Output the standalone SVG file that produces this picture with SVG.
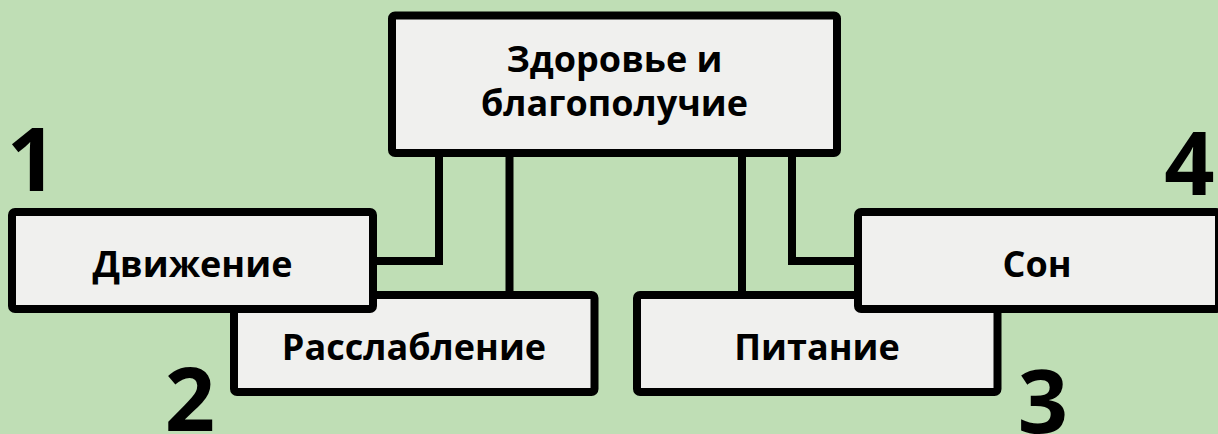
<svg xmlns="http://www.w3.org/2000/svg" width="1218" height="434" viewBox="0 0 1218 434">
<style>
.box{fill:#f0f0ee;stroke:#000;stroke-width:8;stroke-linejoin:round}
.con{fill:none;stroke:#000;stroke-width:8;stroke-linejoin:miter}
.lbl{font-family:"Open Sans","DejaVu Sans",sans-serif;font-weight:700;font-size:36px;fill:#000;text-anchor:middle}
.num{font-family:"Open Sans","DejaVu Sans",sans-serif;font-weight:700;font-size:88px;fill:#000;text-anchor:middle}
</style>
<rect width="1218" height="434" fill="#bfdeb5"/>
<g id="connectors">
<polyline class="con" points="439,153 439,261 373,261"/>
<line class="con" x1="509.5" y1="153" x2="509.5" y2="295"/>
<line class="con" x1="742" y1="153" x2="742" y2="295"/>
<polyline class="con" points="792,153 792,261 858,261"/>
</g>
<g id="node-health">
<rect class="box" x="392" y="15.5" width="445" height="137.5" rx="3"/>
<text class="lbl" x="614.5" y="72">Здоровье и</text>
<text class="lbl" x="614.5" y="116">благополучие</text>
</g>
<g id="node-relax">
<rect class="box" x="234" y="295" width="360.5" height="97" rx="3"/>
<text class="lbl" x="414" y="360">Расслабление</text>
</g>
<g id="node-move">
<rect class="box" x="12" y="212" width="361" height="97" rx="3"/>
<text class="lbl" x="192.5" y="277">Движение</text>
</g>
<g id="node-food">
<rect class="box" x="637" y="295" width="360.5" height="97" rx="3"/>
<text class="lbl" x="817" y="360">Питание</text>
</g>
<g id="node-sleep">
<rect class="box" x="858" y="212" width="361" height="97" rx="3"/>
<text class="lbl" x="1037" y="277">Сон</text>
</g>
<g id="numbers">
<text class="num" x="32" y="191">1</text>
<text class="num" x="190" y="431">2</text>
<text class="num" x="1043" y="433">3</text>
<text class="num" x="1189.5" y="195">4</text>
</g>
</svg>
